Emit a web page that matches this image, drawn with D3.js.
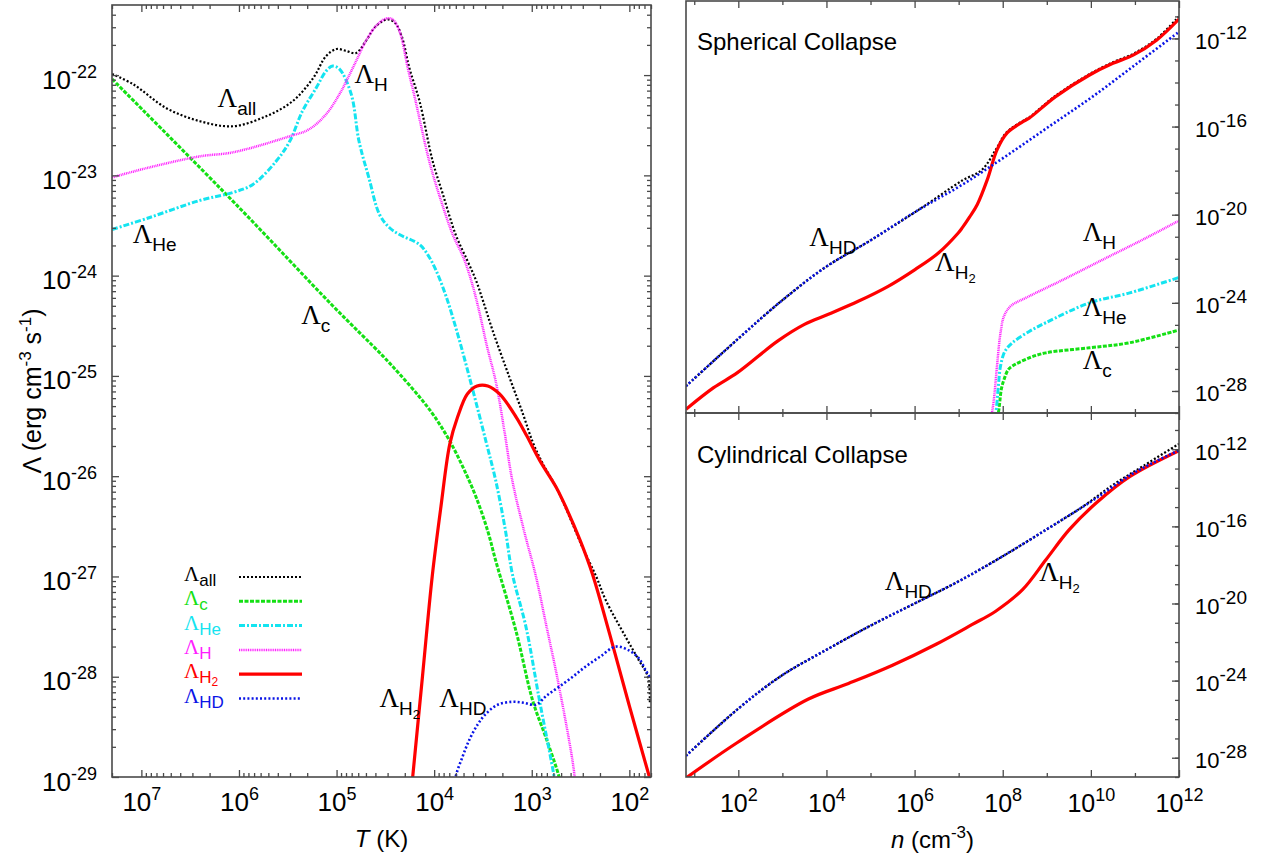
<!DOCTYPE html>
<html><head><meta charset="utf-8">
<script src="https://cdn.jsdelivr.net/npm/d3@7"></script>
<style>body{margin:0;background:#fff}</style>
</head><body><svg id="c" width="1265" height="859" xmlns="http://www.w3.org/2000/svg"></svg>
<script>
// ---------- DATA (log10 T [K], log10 Lambda) : left panel ----------
const tAll = [[7.30,-21.99],[7.086,-22.09],[6.744,-22.33],[6.40,-22.46],[6.06,-22.51],[5.72,-22.41],[5.45,-22.26],[5.24,-22.03],[5.107,-21.81],[5.0,-21.74],[4.90,-21.76],[4.80,-21.78],[4.70,-21.66],[4.595,-21.51],[4.476,-21.445],[4.40,-21.48],[4.33,-21.62],[4.254,-21.93],[4.15,-22.26],[4.015,-22.86],[3.91,-23.19],[3.78,-23.59],[3.66,-23.85],[3.57,-24.05],[3.50,-24.25],[3.40,-24.55],[3.23,-25.01],[3.09,-25.38],[2.99,-25.66],[2.89,-25.87],[2.75,-26.11],[2.65,-26.32],[2.48,-26.71],[2.34,-27.0],[2.24,-27.24],[2.04,-27.6],[1.90,-27.84],[1.81,-28.0],[1.79,-28.26]];
const tC = [[7.30,-22.04],[6.0,-23.32],[5.04,-24.30],[4.527,-24.80],[4.356,-24.98],[4.15,-25.21],[4.0,-25.40],[3.84,-25.65],[3.70,-25.92],[3.57,-26.21],[3.45,-26.55],[3.37,-26.84],[3.16,-27.55],[2.99,-28.24],[2.85,-28.62],[2.72,-29.0],[2.68,-29.2]];
const tHe = [[7.30,-23.54],[6.915,-23.42],[6.40,-23.25],[6.06,-23.17],[5.857,-23.09],[5.62,-22.86],[5.48,-22.66],[5.35,-22.36],[5.21,-22.13],[5.107,-21.96],[5.04,-21.91],[4.97,-21.94],[4.85,-22.19],[4.77,-22.66],[4.67,-23.02],[4.56,-23.39],[4.46,-23.52],[4.356,-23.59],[4.15,-23.69],[4.06,-23.80],[3.98,-23.95],[3.88,-24.20],[3.76,-24.58],[3.61,-25.12],[3.47,-25.65],[3.37,-26.04],[3.27,-26.54],[3.20,-26.97],[3.06,-27.50],[2.92,-28.24],[2.77,-29.0],[2.74,-29.2]];
const tH = [[7.30,-23.02],[6.915,-22.92],[6.40,-22.81],[6.06,-22.77],[5.48,-22.61],[5.28,-22.54],[5.107,-22.39],[4.97,-22.19],[4.90,-22.06],[4.80,-21.86],[4.70,-21.66],[4.595,-21.51],[4.49,-21.435],[4.425,-21.445],[4.356,-21.56],[4.27,-21.93],[4.19,-22.26],[4.05,-22.86],[3.95,-23.19],[3.81,-23.59],[3.70,-23.82],[3.62,-24.05],[3.54,-24.35],[3.46,-24.70],[3.37,-25.05],[3.28,-25.55],[3.20,-26.04],[3.08,-26.54],[2.957,-27.0],[2.855,-27.47],[2.72,-28.10],[2.565,-28.96],[2.55,-29.2]];
const tH2 = [[4.24,-29.2],[4.12,-28.0],[4.02,-27.0],[3.93,-26.3],[3.84,-25.68],[3.76,-25.41],[3.66,-25.18],[3.56,-25.10],[3.45,-25.10],[3.33,-25.18],[3.16,-25.41],[3.05,-25.60],[2.92,-25.84],[2.75,-26.11],[2.65,-26.31],[2.50,-26.65],[2.38,-26.97],[2.20,-27.58],[2.0,-28.29],[1.78,-29.05]];
const tHD = [[3.80,-29.2],[3.78,-29.0],[3.71,-28.8],[3.64,-28.63],[3.55,-28.47],[3.47,-28.37],[3.35,-28.28],[3.20,-28.25],[3.08,-28.26],[2.96,-28.28],[2.85,-28.19],[2.72,-28.10],[2.58,-28.0],[2.45,-27.90],[2.30,-27.80],[2.14,-27.70],[2.0,-27.74],[1.90,-27.82],[1.83,-27.94],[1.78,-28.02]];

// ---------- DATA (log10 n [cm^-3], log10 Lambda) : spherical collapse ----------
const sAll = [[0.813,-27.78],[1.98,-25.66],[2.97,-23.93],[3.95,-22.42],[5.02,-21.14],[6.09,-19.78],[7.08,-18.45],[7.53,-17.96],[7.84,-17.06],[8.08,-16.28],[8.45,-15.75],[8.60,-15.58],[9.20,-14.60],[9.97,-13.62],[10.50,-13.08],[10.96,-12.70],[11.49,-12.02],[12.0,-11.0]];
const sC = [[7.86,-29.2],[7.90,-28.99],[7.97,-27.9],[8.03,-27.48],[8.12,-27.05],[8.22,-26.87],[8.60,-26.50],[8.98,-26.27],[9.97,-26.04],[10.88,-25.81],[12.0,-25.23]];
const sHe = [[7.80,-29.2],[7.84,-28.99],[7.90,-27.8],[7.95,-26.87],[8.05,-26.2],[8.22,-25.81],[8.60,-25.30],[8.98,-24.90],[9.97,-24.0],[10.88,-23.55],[12.0,-22.85]];
const sH = [[7.74,-29.2],[7.80,-28.37],[7.87,-26.87],[7.95,-25.36],[8.03,-24.60],[8.18,-24.15],[8.60,-23.70],[9.36,-22.96],[10.27,-22.04],[11.19,-21.12],[12.0,-20.27]];
const sH2 = [[0.813,-28.83],[1.44,-27.85],[1.98,-27.17],[2.89,-25.74],[3.50,-24.98],[4.03,-24.53],[4.72,-23.93],[5.40,-23.25],[6.01,-22.49],[6.54,-21.74],[6.99,-20.83],[7.08,-20.60],[7.25,-20.10],[7.42,-19.55],[7.65,-18.41],[7.87,-17.06],[8.10,-16.29],[8.45,-15.79],[8.60,-15.62],[9.20,-14.64],[9.97,-13.66],[10.50,-13.13],[10.96,-12.76],[11.49,-12.08],[12.0,-11.12]];
const sHD = [[0.813,-27.78],[1.98,-25.66],[2.97,-23.93],[3.95,-22.42],[5.02,-21.14],[6.09,-19.78],[7.08,-18.64],[8.06,-17.36],[9.05,-16.0],[10.04,-14.64],[11.03,-13.16],[12.0,-11.70]];

// ---------- DATA : cylindrical collapse ----------
const cAll = [[0.813,-27.90],[1.98,-25.49],[2.97,-23.76],[4.0,-22.40],[5.0,-21.15],[6.0,-20.0],[7.0,-18.85],[8.0,-17.55],[9.0,-16.15],[9.8,-15.0],[10.5,-13.85],[11.2,-12.85],[12.0,-11.72]];
const cH2 = [[0.813,-29.05],[1.98,-27.21],[3.58,-24.97],[4.5,-24.15],[5.5,-23.20],[6.5,-22.10],[7.3,-21.10],[7.84,-20.40],[8.45,-19.28],[8.98,-17.73],[9.51,-16.17],[10.12,-14.79],[10.88,-13.42],[12.0,-12.07]];
const cHD = [[0.813,-27.90],[1.98,-25.49],[2.97,-23.76],[4.0,-22.40],[5.0,-21.15],[6.0,-20.0],[7.0,-18.85],[8.0,-17.55],[9.0,-16.15],[10.0,-14.72],[11.0,-13.20],[12.0,-12.05]];

// ---------- tick values ----------
const leftXTicks = [1e7, 1e6, 1e5, 1e4, 1e3, 1e2];
const leftYTicks = [1e-29, 1e-28, 1e-27, 1e-26, 1e-25, 1e-24, 1e-23, 1e-22];
const rightXTicks = [1e2, 1e4, 1e6, 1e8, 1e10, 1e12];
const rightXMinor = [1e1, 1e3, 1e5, 1e7, 1e9, 1e11];
const rightYTicks = [1e-28, 1e-24, 1e-20, 1e-16, 1e-12];

// ---------- label positions (data coords) ----------
const leftLabels = [["all","",6.219,-22.319],["H","",4.817,-22.08],["He","",7.089,-23.677],["c","",5.362,-24.483],["H","2",4.561,-28.30],["HD","",3.947,-28.30]];
const sphLabels = [["HD","",3.612,-21.434],["H","2",6.466,-22.566],["H","",9.815,-21.208],["He","",9.815,-24.603],["c","",9.815,-27.016]];
const cylLabels = [["HD","",5.324,-19.286],["H","2",8.826,-18.857]];
const legendItems = [["all","","all"],["c","","c"],["He","","He"],["H","","H"],["H","2","H2"],["HD","","HD"]];

const SANS = "'Liberation Sans', Arial, Helvetica, sans-serif";
const SERIF = "'Liberation Serif', 'Times New Roman', serif";
const styles = {
  all: {color:"#000000", width:2.2, dash:"2,2"},
  c:   {color:"#14e014", width:3, dash:"4,1.5"},
  He:  {color:"#14e4f0", width:3, dash:"6,2,2,2"},
  H:   {color:"#ff1eff", width:2.5, dash:"1,0.8"},
  H2:  {color:"#ff0000", width:3.2, dash:null},
  HD:  {color:"#0a14e6", width:2.6, dash:"2,2.2"}
};

const svg = d3.select("#c").style("font-family", SANS);
svg.append("rect").attr("width",1265).attr("height",859).attr("fill","#fff");

const xL = d3.scaleLog().domain([2e7, 60]).range([112, 651]);
const yL = d3.scaleLog().domain([1e-29, 5e-22]).range([777, 5]);
const xR = d3.scaleLog().domain([6.5, 1e12]).range([686, 1179]);
const yT = d3.scaleLog().domain([1e-29, 5e-11]).range([413, 1]);
const yB = d3.scaleLog().domain([1e-29, 7.6e-11]).range([777, 413]);

function minorTicks(scale) {
  const d = scale.domain(), lo = Math.min(d[0],d[1]), hi = Math.max(d[0],d[1]);
  const out = [];
  for (let e = Math.floor(Math.log10(lo)); e <= Math.ceil(Math.log10(hi)); e++)
    for (let m = 2; m <= 9; m++) { const v = m * 10**e; if (v >= lo && v <= hi) out.push(v); }
  return out;
}

const defs = svg.append("defs");
function clip(id, x, y) {
  const r = x.range(), s = y.range();
  defs.append("clipPath").attr("id", id).append("rect")
    .attr("x", Math.min(r[0],r[1])).attr("y", Math.min(s[0],s[1]))
    .attr("width", Math.abs(r[1]-r[0])).attr("height", Math.abs(s[1]-s[0]));
}
clip("cl", xL, yL); clip("ct", xR, yT); clip("cb", xR, yB);

function series(g, data, x, y, st) {
  const line = d3.line().x(d => x(10**d[0])).y(d => y(10**d[1])).curve(d3.curveCatmullRom.alpha(0.5));
  g.append("path").datum(data).attr("d", line).attr("fill","none")
    .attr("stroke", st.color).attr("stroke-width", st.width)
    .attr("stroke-dasharray", st.dash).attr("stroke-linejoin","round");
}

function frame(x, y) {
  const r = x.range(), s = y.range();
  svg.append("rect").attr("x", Math.min(r[0],r[1])).attr("y", Math.min(s[0],s[1]))
    .attr("width", Math.abs(r[1]-r[0])).attr("height", Math.abs(s[1]-s[0]))
    .attr("fill","none").attr("stroke","#4a4a4a").attr("stroke-width",1.6);
}

function tickAxis(axisFn, scale, vals, size, transform) {
  const g = svg.append("g").attr("transform", transform)
    .call(axisFn(scale).tickValues(vals).tickSize(size).tickFormat(() => ""));
  g.select(".domain").remove();
  g.selectAll(".tick line").attr("stroke","#4a4a4a").attr("stroke-width",1.3);
  return g;
}

function powLabels(g, opts) {
  g.selectAll(".tick").each(function(d) {
    const e = Math.round(Math.log10(d));
    const t = d3.select(this).append("text").attr("x", opts.x).attr("y", opts.y)
      .attr("text-anchor", opts.anchor).attr("fill","#000").attr("font-family", SANS)
      .attr("font-size", opts.fs).attr("stroke","none");
    t.append("tspan").text("10");
    t.append("tspan").attr("font-size", opts.sfs).attr("dy", -opts.raise).text(String(e));
  });
}

// ----- left panel -----
const L = svg.append("g").attr("clip-path","url(#cl)");
series(L, tAll, xL, yL, styles.all);
series(L, tC, xL, yL, styles.c);
series(L, tHe, xL, yL, styles.He);
series(L, tH, xL, yL, styles.H);
series(L, tH2, xL, yL, styles.H2);
series(L, tHD, xL, yL, styles.HD);
frame(xL, yL);
const lxb = tickAxis(d3.axisBottom, xL, leftXTicks, -7, "translate(0,777)");
tickAxis(d3.axisBottom, xL, minorTicks(xL), -4, "translate(0,777)");
tickAxis(d3.axisTop, xL, leftXTicks, -7, "translate(0,5)");
tickAxis(d3.axisTop, xL, minorTicks(xL), -4, "translate(0,5)");
powLabels(lxb, {x:0, y:34, anchor:"middle", fs:26, sfs:18, raise:11});
const lyl = tickAxis(d3.axisLeft, yL, leftYTicks, -7, "translate(112,0)");
tickAxis(d3.axisLeft, yL, minorTicks(yL), -4, "translate(112,0)");
tickAxis(d3.axisRight, yL, leftYTicks, -7, "translate(651,0)");
tickAxis(d3.axisRight, yL, minorTicks(yL), -4, "translate(651,0)");
powLabels(lyl, {x:-15, y:13, anchor:"end", fs:26, sfs:18, raise:11});

// ----- right panels -----
const T = svg.append("g").attr("clip-path","url(#ct)");
series(T, sAll, xR, yT, styles.all);
series(T, sC, xR, yT, styles.c);
series(T, sHe, xR, yT, styles.He);
series(T, sH, xR, yT, styles.H);
series(T, sH2, xR, yT, styles.H2);
series(T, sHD, xR, yT, styles.HD);
const B = svg.append("g").attr("clip-path","url(#cb)");
series(B, cAll, xR, yB, styles.all);
series(B, cH2, xR, yB, styles.H2);
series(B, cHD, xR, yB, styles.HD);
frame(xR, yT); frame(xR, yB);
[[1,"axisTop"],[413,"axisBottom"],[413,"axisTop"],[777,"axisBottom"]].forEach(([yy, fn]) => {
  tickAxis(d3[fn], xR, rightXTicks, -7, `translate(0,${yy})`);
  tickAxis(d3[fn], xR, rightXMinor, -4, `translate(0,${yy})`);
});
const rxb = svg.append("g").attr("transform","translate(0,777)")
  .call(d3.axisBottom(xR).tickValues(rightXTicks).tickSize(0).tickFormat(() => ""));
rxb.select(".domain").remove();
powLabels(rxb, {x:0, y:35, anchor:"middle", fs:25, sfs:18, raise:11});
const minorDec = (lo, hi) => d3.range(lo, hi + 1).map(e => 10**e);
const ryt = tickAxis(d3.axisRight, yT, rightYTicks, -7, "translate(1179,0)");
tickAxis(d3.axisRight, yT, minorDec(-29, -11), -4, "translate(1179,0)");
powLabels(ryt, {x:16, y:10, anchor:"start", fs:22, sfs:19, raise:10});
const ryb = tickAxis(d3.axisRight, yB, rightYTicks, -7, "translate(1179,0)");
tickAxis(d3.axisRight, yB, minorDec(-29, -11), -4, "translate(1179,0)");
powLabels(ryb, {x:16, y:10, anchor:"start", fs:22, sfs:19, raise:10});

// ----- Lambda labels -----
function lam(parent, x, y, sub, subsub, color, anchor, big, small, drop) {
  const t = parent.append("text").attr("x", x).attr("y", y).attr("fill", color)
    .attr("text-anchor", anchor || "start");
  t.append("tspan").attr("font-family", SERIF).attr("font-size", big || 27).text("Λ");
  t.append("tspan").attr("font-family", SANS).attr("font-size", small || 19).attr("dy", drop || 8).text(sub);
  if (subsub) t.append("tspan").attr("font-family", SANS).attr("font-size", 13).attr("dy", 4).text(subsub);
  return t;
}
leftLabels.forEach(([s, ss, lx, ly]) => lam(svg, xL(10**lx), yL(10**ly), s, ss, "#000"));
sphLabels.forEach(([s, ss, lx, ly]) => lam(svg, xR(10**lx), yT(10**ly), s, ss, "#000"));
cylLabels.forEach(([s, ss, lx, ly]) => lam(svg, xR(10**lx), yB(10**ly), s, ss, "#000"));

// ----- legend (symbol and subscript as separate texts, left aligned) -----
legendItems.forEach(([s, ss, key], i) => {
  const yy = 577 + i * 24.3;
  const st = styles[key];
  const big = svg.append("text").attr("x", 184).attr("y", yy + 4).attr("fill", st.color)
    .attr("font-family", SERIF).attr("font-size", 21).text("Λ");
  const w = big.node().getComputedTextLength();
  const sb = svg.append("text").attr("x", 184 + w).attr("y", yy + 9).attr("fill", st.color)
    .attr("font-family", SANS).attr("font-size", 17);
  sb.append("tspan").text(s);
  if (ss) sb.append("tspan").attr("font-size", 12).attr("dy", 3).text(ss);
  svg.append("line").attr("x1", 239).attr("x2", 302).attr("y1", yy).attr("y2", yy)
    .attr("stroke", st.color).attr("stroke-width", st.width).attr("stroke-dasharray", st.dash);
});

// ----- titles & axis labels -----
svg.append("text").attr("x", 697).attr("y", 50).attr("font-size", 24).text("Spherical Collapse");
svg.append("text").attr("x", 697).attr("y", 463).attr("font-size", 24).text("Cylindrical Collapse");

const xt = svg.append("text").attr("x", (112+651)/2).attr("y", 847).attr("text-anchor","middle").attr("font-size", 24);
xt.append("tspan").attr("font-style","italic").text("T");
xt.append("tspan").text(" (K)");

const xn = svg.append("text").attr("x", (686+1179)/2).attr("y", 848).attr("text-anchor","middle").attr("font-size", 24);
xn.append("tspan").attr("font-style","italic").text("n");
xn.append("tspan").text(" (cm");
xn.append("tspan").attr("font-size", 17).attr("dy", -10).text("-3");
xn.append("tspan").attr("dy", 10).text(")");

const yt = svg.append("text").attr("transform","translate(41,391) rotate(-90)").attr("text-anchor","middle").attr("font-size", 25);
yt.append("tspan").text("Λ (erg cm");
yt.append("tspan").attr("font-size", 17).attr("dy", -10).text("-3");
yt.append("tspan").attr("dy", 10).text(" s");
yt.append("tspan").attr("font-size", 17).attr("dy", -10).text("-1");
yt.append("tspan").attr("dy", 10).text(")");
</script>
</body></html>
